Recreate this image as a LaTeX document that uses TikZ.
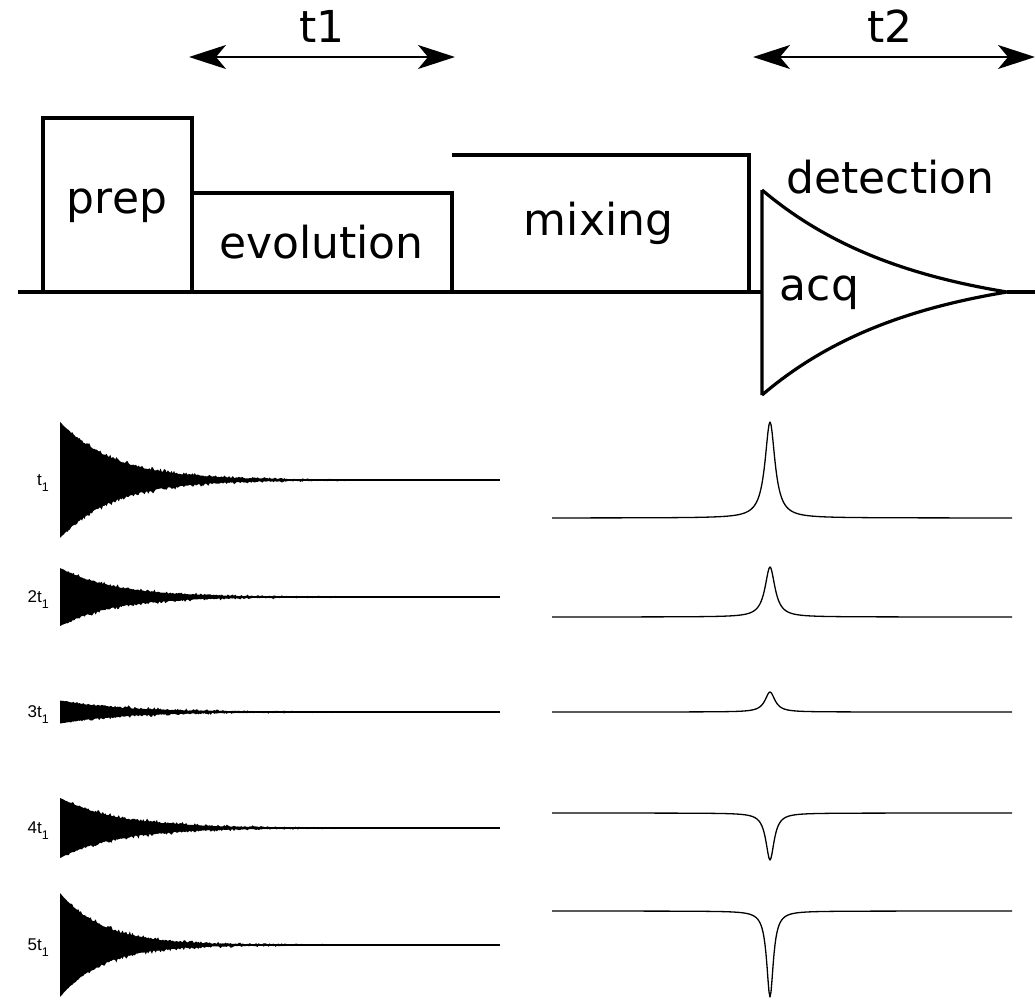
\documentclass[tikz,border=0pt]{standalone}
\usepackage{fontspec}
\setmainfont{DejaVu Sans}
\newfontfamily\lblfont{Liberation Sans}
\usetikzlibrary{arrows.meta}
\tikzset{
  blockline/.style={line width=4.3pt, line join=miter},
  acqline/.style={line width=3.2pt, line join=miter},
  dimarrow/.style={line width=1.6pt, {Stealth[length=37pt,width=24pt,inset=10pt]}-{Stealth[length=37pt,width=24pt,inset=10pt]}},
  bigtext/.style={font=\fontsize{44}{50}\selectfont, anchor=base, inner sep=0pt},
  rowlabel/.style={font=\lblfont\fontsize{17}{20}\selectfont, anchor=base east, inner sep=0pt},
  fidfill/.style={fill=black},
  fidline/.style={line width=1.4pt},
  specline/.style={line width=1.3pt, line join=round},
}
\newcommand\fidrow[4]{% center, amplitude, tau, noise
  \fill[fidfill] plot[domain=60:500,samples=360] (\x,{#1-#2*exp(-(\x-60)/#3)-#4*rnd*rnd*exp(-(\x-60)/170)*(1-exp(-(\x-60)/25))})
     -- plot[domain=500:60,samples=360] (\x,{#1+#2*exp(-(\x-60)/#3)+#4*rnd*rnd*exp(-(\x-60)/170)*(1-exp(-(\x-60)/25))}) -- cycle;
  \draw[fidline] (60,#1) -- (500,#1);
}
\newcommand\specrow[3]{% base, height, gamma
  \draw[specline] plot[domain=552:1012,samples=461] (\x,{#1-(#2)*(#3/10)*(#3/10)/(((\x-770)/10)*((\x-770)/10)+(#3/10)*(#3/10))});
}
\newcommand\subone[1]{#1\raisebox{-6pt}{\fontsize{12.5}{13}\selectfont 1}}
\begin{document}
\begin{tikzpicture}[x=1pt,y=-1pt]
\useasboundingbox (0,0) rectangle (1035,998);
\pgfmathsetseed{1234}
% timing diagram
\coordinate (base0) at (18,292);
\coordinate (acqL) at (762,292);
\coordinate (tip) at (1007,292);
\coordinate (base1) at (1035,292);
\draw[blockline] (base0) -- (acqL);
\draw[blockline] (tip) -- (base1);
\draw[blockline] (43,292) -- (43,118) -- (192,118) -- (192,292);
\draw[blockline] (192,193) -- (452,193) -- (452,292);
\draw[blockline] (452,155) -- (749,155) -- (749,292);
\draw[acqline] (762,395) -- (762,190)
  -- plot[domain=762:1007,samples=80] (\x,{292-102*(exp(-(\x-762)/150)-0.1953)/0.8047})
  -- plot[domain=1007:762,samples=80] (\x,{292+103*(exp(-(\x-762)/150)-0.1953)/0.8047}) -- cycle;
\node[bigtext] (prep) at (117,213) {prep};
\node[bigtext] (evol) at (321.5,258) {evolution};
\node[bigtext] (mix) at (598.5,235) {mixing};
\node[bigtext] (det) at (890.5,193) {detection};
\node[bigtext] (acq) at (819.5,300) {acq};
% dimension arrows
\coordinate (t1l) at (189,57);
\coordinate (t1r) at (455,57);
\coordinate (t2l) at (753,57);
\coordinate (t2r) at (1035,57);
\draw[dimarrow] (t1l) -- (t1r);
\draw[dimarrow] (t2l) -- (t2r);
\node[bigtext] (t1lbl) at (322,43) {t1};
\node[bigtext] (t2lbl) at (890,43) {t2};
% FIDs
\fidrow{480}{58}{52}{7}
\fidrow{597}{29}{52}{6}
\fidrow{712}{11.5}{60}{5}
\fidrow{828}{30}{55}{6}
\fidrow{945}{52}{42}{7}
\node[rowlabel] (r1) at (49,485) {\subone{t}};
\node[rowlabel] (r2) at (49,602) {\subone{2t}};
\node[rowlabel] (r3) at (49,717) {\subone{3t}};
\node[rowlabel] (r4) at (49,833) {\subone{4t}};
\node[rowlabel] (r5) at (49,950) {\subone{5t}};
% spectra
\specrow{518}{96}{6}
\specrow{617}{50}{6}
\specrow{712}{20}{6}
\specrow{813}{-47}{5}
\specrow{911}{-86}{4}
\end{tikzpicture}
\end{document}
